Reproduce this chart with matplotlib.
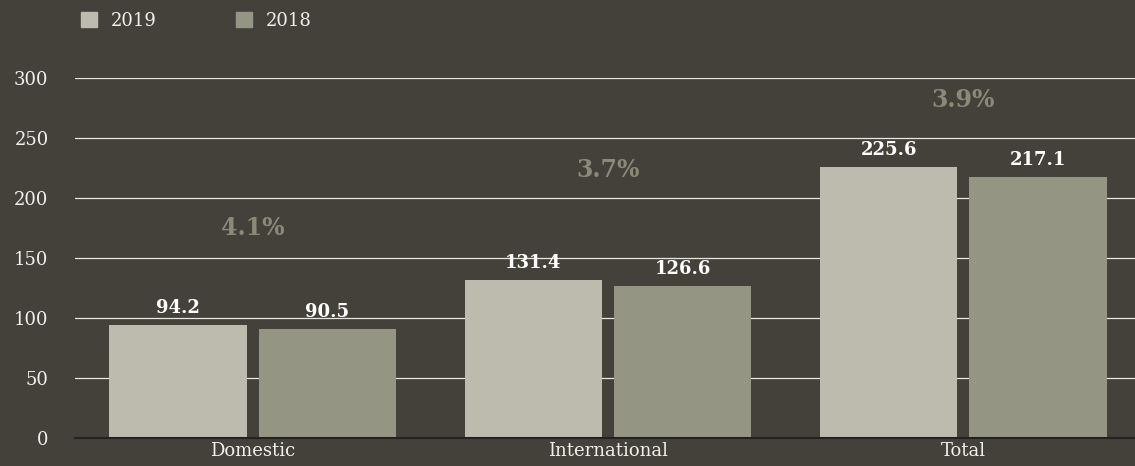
import matplotlib.pyplot as plt
import matplotlib.patches as patches
import numpy as np

categories = ["Domestic", "International", "Total"]
values_2019 = [94.2, 131.4, 225.6]
values_2018 = [90.5, 126.6, 217.1]
growth_labels = ["4.1%", "3.7%", "3.9%"]
growth_label_y = [175, 223, 282]
yticks = [0, 50, 100, 150, 200, 250, 300]

BG = "#434139"
C2019 = "#bcbbae"
C2018 = "#949583"
PCT = "#8a8a79"

plt.rcParams['font.family'] = ['DejaVu Serif']

fig = plt.figure(figsize=(11.35, 4.66), dpi=100, facecolor=BG)
ax = fig.add_axes([75 / 1135, 1 - 438 / 466, 1066 / 1135, 360 / 466])
ax.set_facecolor(BG)

x = np.arange(len(categories))
w = 0.386
off = 0.21
b1 = ax.bar(x - off, values_2019, w, color=C2019, zorder=3)
b2 = ax.bar(x + off, values_2018, w, color=C2018, zorder=3)

for bars, vals in ((b1, values_2019), (b2, values_2018)):
    for rect, v in zip(bars, vals):
        ax.annotate(f"{v}", (rect.get_x() + rect.get_width() / 2, v),
                    xytext=(0, 6), textcoords="offset points",
                    ha="center", va="bottom", color="white",
                    fontsize=13, fontweight="bold", zorder=4)

for xi, lab, yy in zip(x, growth_labels, growth_label_y):
    ax.text(xi, yy, lab, ha="center", va="center", color=PCT,
            fontsize=17, fontweight="bold", zorder=4)

ax.set_xlim(-0.5, 2.5)
ax.set_ylim(0, 300)
ax.set_yticks(yticks)
ax.set_xticks(x)
ax.set_xticklabels(categories)
ax.grid(axis="y", color="#e8e8e0", linewidth=0.9, zorder=0)
ax.tick_params(axis="both", length=0, colors="#f0f0ea", labelsize=13)
ax.tick_params(axis="y", pad=19)
ax.tick_params(axis="x", pad=3)
for s in ("top", "right", "left"):
    ax.spines[s].set_visible(False)
ax.spines["bottom"].set_color("#222220")
ax.spines["bottom"].set_linewidth(1.5)
ax.spines["bottom"].set_zorder(5)

handles = [patches.Patch(color=C2019, label="2019"),
           patches.Patch(color=C2018, label="2018")]
fig.legend(handles=handles, loc="center left",
           bbox_to_anchor=(81 / 1135, 1 - 21 / 466),
           ncol=2, frameon=False, fontsize=13, handlelength=0.88,
           handleheight=0.88, handletextpad=0.78, columnspacing=4.4,
           borderpad=0, borderaxespad=0, labelcolor="#f0f0ea")

fig.savefig("out.png", facecolor=BG)
